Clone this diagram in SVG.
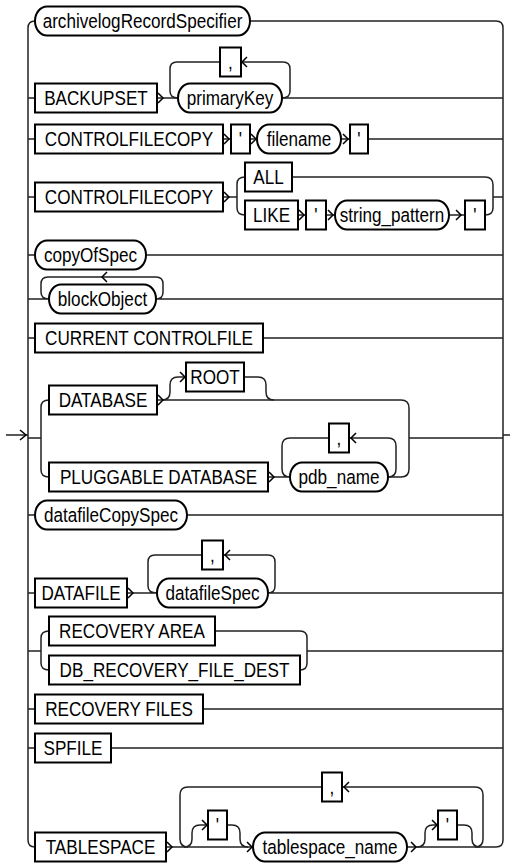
<svg xmlns="http://www.w3.org/2000/svg" width="510" height="863" viewBox="0 0 510 863">
<style>
.b{fill:#fff;stroke:#000;stroke-width:2}
.l{fill:none;stroke:#222;stroke-width:1.5}
.a{fill:none;stroke:#000;stroke-width:1.5}
.t{font-family:"Liberation Sans",Arial,sans-serif;font-size:20.5px;text-anchor:middle;fill:#000}
</style>
<rect width="510" height="863" fill="#fff"/>
<g id="connectors">
<path class="l" d="M6,435 H28 M503,435 H510"/>
<path class="a" d="M20,430 L26,435 L20,440"/>
<path class="l" d="M35,21 Q28,21 28,28 V840 Q28,847 35,847"/>
<path class="l" d="M250,21 H496 Q503,21 503,28 V840 Q503,847 496,847"/>
<path class="l" d="M28,98 H35 M157,98 H178 M282,98 H503"/>
<path class="l" d="M282,98 Q290,98 290,91 V69 Q290,62 283,62 H241 M220,62 H177 Q170,62 170,69 V91 Q170,98 178,98"/>
<path class="a" d="M158,93 L163,98 L158,103 M247,57 L242,62 L247,67"/>
<path class="l" d="M28,139 H35 M223,139 H231 M250,139 H257 M341,139 H350 M368,139 H503"/>
<path class="a" d="M224,134 L229,139 L224,144 M251,134 L256,139 L251,144 M343,134 L348,139 L343,144"/>
<path class="l" d="M28,197 H35 M223,197 H237 M245,177 Q237,177 237,184 V208 Q237,215 245,215"/>
<path class="l" d="M298,215 H306 M326,215 H335 M449,215 H465 M485,215 Q493,215 493,208 V185 Q493,177 485,177 H292 M493,197 H503"/>
<path class="a" d="M224,192 L229,197 L224,202 M299,210 L304,215 L299,220 M328,210 L333,215 L328,220 M456,210 L461,215 L456,220"/>
<path class="l" d="M28,255 H35 M146,255 H503"/>
<path class="l" d="M28,299 H49 M156,299 H503 M156,299 Q163,299 163,292 V284 Q163,277 156,277 H48 Q41,277 41,284 V292 Q41,299 49,299"/>
<path class="a" d="M107,272 L102,277 L107,282"/>
<path class="l" d="M28,338 H35 M263,338 H503"/>
<path class="l" d="M28,438 H41 M49,400 Q41,400 41,407 V470 Q41,477 49,477"/>
<path class="l" d="M157,400 H401 Q409,400 409,408 V469 Q409,477 401,477 H388 M409,438 H503"/>
<path class="l" d="M162,400 Q170,400 170,392 V385 Q170,377 178,377 H186 M244,377 H258 Q266,377 266,385 V392 Q266,400 274,400"/>
<path class="l" d="M268,477 H290 M388,477 Q396,477 396,469 V446 Q396,438 388,438 H349 M329,438 H290 Q282,438 282,446 V469 Q282,477 290,477"/>
<path class="a" d="M158,395 L163,400 L158,405 M180,372 L185,377 L180,382 M269,472 L274,477 L269,482 M356,433 L351,438 L356,443"/>
<path class="l" d="M28,515 H35 M187,515 H503"/>
<path class="l" d="M28,593 H35 M127,593 H157 M268,593 H503 M268,593 Q275,593 275,586 V562 Q275,555 268,555 H223 M202,555 H155 Q148,555 148,562 V586 Q148,593 157,593"/>
<path class="a" d="M128,588 L133,593 L128,598 M230,550 L225,555 L230,560"/>
<path class="l" d="M28,651 H41 M49,631 Q41,631 41,638 V663 Q41,670 49,670 M215,631 H300 Q307,631 307,638 V663 Q307,670 300,670 M307,651 H503"/>
<path class="l" d="M28,709 H35 M203,709 H503 M28,748 H35 M111,748 H503"/>
<path class="l" d="M166,847 H253 M407,847 H496"/>
<path class="l" d="M180,795 V839 Q180,847 188,847 M180,795 Q180,787 188,787 H322 M342,787 H475 Q483,787 483,795 V839 Q483,847 475,847"/>
<path class="l" d="M184,847 Q192,847 192,839 V833 Q192,825 200,825 H208 M227,825 H232 Q240,825 240,833 V839 Q240,847 248,847"/>
<path class="l" d="M417,847 Q425,847 425,839 V833 Q425,825 433,825 H438 M457,825 H464 Q472,825 472,833 V839 Q472,847 480,847"/>
<path class="a" d="M167,842 L172,847 L167,852 M202,820 L207,825 L202,830 M247,842 L252,847 L247,852 M411,842 L416,847 L411,852 M432,820 L437,825 L432,830 M349,782 L344,787 L349,792"/>
</g>
<g id="n1"><rect class="b" x="35" y="6.5" width="215" height="29" rx="12" ry="14.5"/><text class="t" transform="translate(142.5,28) scale(0.835,1)">archivelogRecordSpecifier</text></g>
<g id="n2"><rect class="b" x="35" y="83.5" width="122" height="29"/><text class="t" transform="translate(96,105) scale(0.835,1)">BACKUPSET</text></g>
<g id="n3"><rect class="b" x="178" y="83.5" width="104" height="29" rx="12" ry="14.5"/><text class="t" transform="translate(230,105) scale(0.835,1)">primaryKey</text></g>
<g id="n4"><rect class="b" x="220" y="47.5" width="21" height="29"/><text class="t" transform="translate(230.5,69) scale(0.835,1)">,</text></g>
<g id="n5"><rect class="b" x="35" y="124.5" width="188" height="29"/><text class="t" transform="translate(129,146) scale(0.835,1)">CONTROLFILECOPY</text></g>
<g id="n6"><rect class="b" x="231" y="124.5" width="19" height="29"/><text class="t" transform="translate(240.5,146) scale(0.835,1)">'</text></g>
<g id="n7"><rect class="b" x="257" y="124.5" width="84" height="29" rx="12" ry="14.5"/><text class="t" transform="translate(299,146) scale(0.835,1)">filename</text></g>
<g id="n8"><rect class="b" x="350" y="124.5" width="18" height="29"/><text class="t" transform="translate(359,146) scale(0.835,1)">'</text></g>
<g id="n9"><rect class="b" x="35" y="182.5" width="188" height="29"/><text class="t" transform="translate(129,204) scale(0.835,1)">CONTROLFILECOPY</text></g>
<g id="n10"><rect class="b" x="245" y="162.5" width="47" height="29"/><text class="t" transform="translate(268.5,184) scale(0.835,1)">ALL</text></g>
<g id="n11"><rect class="b" x="245" y="200.5" width="53" height="29"/><text class="t" transform="translate(271.5,222) scale(0.835,1)">LIKE</text></g>
<g id="n12"><rect class="b" x="306" y="200.5" width="20" height="29"/><text class="t" transform="translate(316,222) scale(0.835,1)">'</text></g>
<g id="n13"><rect class="b" x="335" y="200.5" width="114" height="29" rx="12" ry="14.5"/><text class="t" transform="translate(392,222) scale(0.835,1)">string_pattern</text></g>
<g id="n14"><rect class="b" x="465" y="200.5" width="20" height="29"/><text class="t" transform="translate(475,222) scale(0.835,1)">'</text></g>
<g id="n15"><rect class="b" x="35" y="240.5" width="111" height="29" rx="12" ry="14.5"/><text class="t" transform="translate(90.5,262) scale(0.835,1)">copyOfSpec</text></g>
<g id="n16"><rect class="b" x="49" y="284.5" width="107" height="29" rx="12" ry="14.5"/><text class="t" transform="translate(102.5,306) scale(0.835,1)">blockObject</text></g>
<g id="n17"><rect class="b" x="35" y="323.5" width="228" height="29"/><text class="t" transform="translate(149,345) scale(0.835,1)">CURRENT CONTROLFILE</text></g>
<g id="n18"><rect class="b" x="49" y="385.5" width="108" height="29"/><text class="t" transform="translate(103,407) scale(0.835,1)">DATABASE</text></g>
<g id="n19"><rect class="b" x="186" y="362.5" width="58" height="29"/><text class="t" transform="translate(215,384) scale(0.835,1)">ROOT</text></g>
<g id="n20"><rect class="b" x="49" y="462.5" width="219" height="29"/><text class="t" transform="translate(158.5,484) scale(0.835,1)">PLUGGABLE DATABASE</text></g>
<g id="n21"><rect class="b" x="290" y="462.5" width="98" height="29" rx="12" ry="14.5"/><text class="t" transform="translate(339,484) scale(0.835,1)">pdb_name</text></g>
<g id="n22"><rect class="b" x="329" y="423.5" width="20" height="29"/><text class="t" transform="translate(339,445) scale(0.835,1)">,</text></g>
<g id="n23"><rect class="b" x="35" y="500.5" width="152" height="29" rx="12" ry="14.5"/><text class="t" transform="translate(111,522) scale(0.835,1)">datafileCopySpec</text></g>
<g id="n24"><rect class="b" x="35" y="578.5" width="92" height="29"/><text class="t" transform="translate(81,600) scale(0.835,1)">DATAFILE</text></g>
<g id="n25"><rect class="b" x="157" y="578.5" width="111" height="29" rx="12" ry="14.5"/><text class="t" transform="translate(212.5,600) scale(0.835,1)">datafileSpec</text></g>
<g id="n26"><rect class="b" x="202" y="540.5" width="21" height="29"/><text class="t" transform="translate(212.5,562) scale(0.835,1)">,</text></g>
<g id="n27"><rect class="b" x="49" y="616.5" width="166" height="29"/><text class="t" transform="translate(132,638) scale(0.835,1)">RECOVERY AREA</text></g>
<g id="n28"><rect class="b" x="49" y="655.5" width="251" height="29"/><text class="t" transform="translate(174.5,677) scale(0.835,1)">DB_RECOVERY_FILE_DEST</text></g>
<g id="n29"><rect class="b" x="35" y="694.5" width="168" height="29"/><text class="t" transform="translate(119,716) scale(0.835,1)">RECOVERY FILES</text></g>
<g id="n30"><rect class="b" x="35" y="733.5" width="76" height="29"/><text class="t" transform="translate(73,755) scale(0.835,1)">SPFILE</text></g>
<g id="n31"><rect class="b" x="35" y="832.5" width="131" height="29"/><text class="t" transform="translate(100.5,854) scale(0.835,1)">TABLESPACE</text></g>
<g id="n32"><rect class="b" x="322" y="772.5" width="20" height="29"/><text class="t" transform="translate(332,794) scale(0.835,1)">,</text></g>
<g id="n33"><rect class="b" x="208" y="810.5" width="19" height="29"/><text class="t" transform="translate(217.5,832) scale(0.835,1)">'</text></g>
<g id="n34"><rect class="b" x="253" y="832.5" width="154" height="29" rx="12" ry="14.5"/><text class="t" transform="translate(330,854) scale(0.835,1)">tablespace_name</text></g>
<g id="n35"><rect class="b" x="438" y="810.5" width="19" height="29"/><text class="t" transform="translate(447.5,832) scale(0.835,1)">'</text></g>
</svg>
